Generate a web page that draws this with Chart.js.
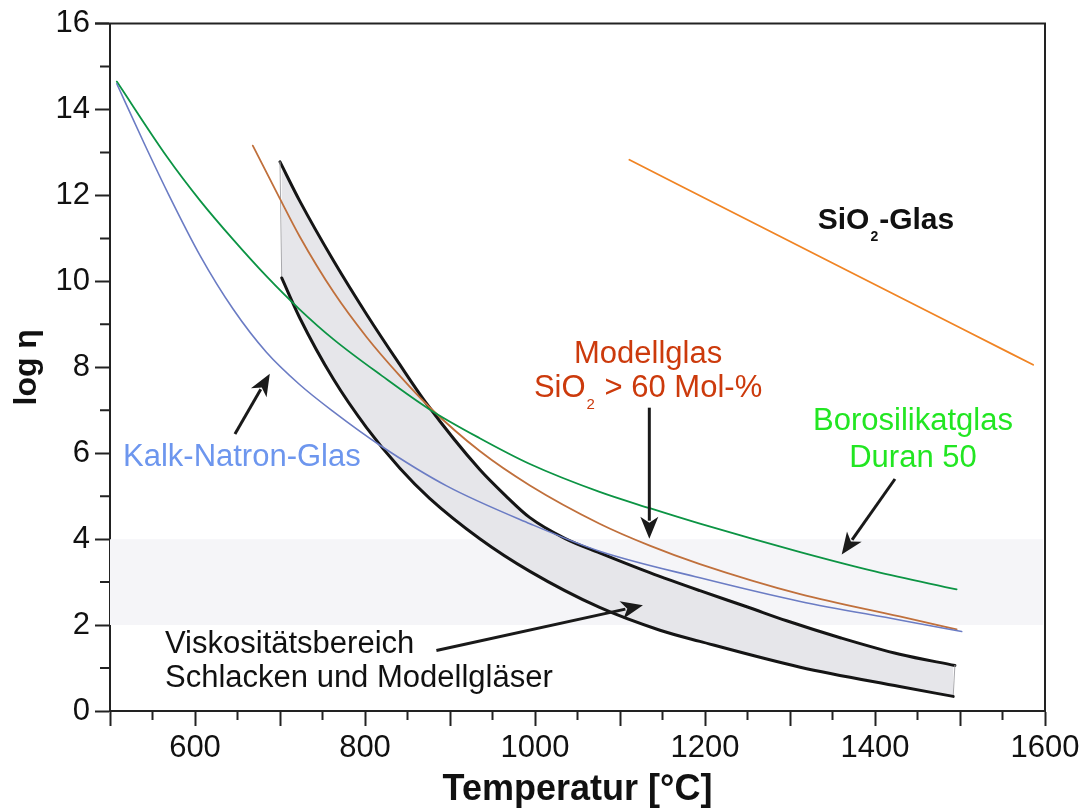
<!DOCTYPE html>
<html>
<head>
<meta charset="utf-8">
<script src="https://cdn.jsdelivr.net/npm/chart.js@4.4.1/dist/chart.umd.min.js"></script>
<style>
  html, body { margin: 0; padding: 0; background: #fff; }
  #wrap { width: 1085px; height: 812px; }
</style>
</head>
<body>
<div id="wrap"><canvas id="viscChart" width="1085" height="812"></canvas></div>
<script>
// ---- data (temperature in °C, log eta) ----
var kalkT   = [508, 540, 567, 606, 645, 684, 723, 762, 818, 896, 994, 1076, 1194, 1312, 1429, 1502];
var kalkEta = [14.6, 13.22, 12.1, 10.6, 9.35, 8.35, 7.6, 6.98, 6.18, 5.24, 4.36, 3.72, 3.1, 2.55, 2.12, 1.85];

var boroT   = [508, 567, 606, 645, 684, 723, 763, 820, 876, 935, 994, 1076, 1135, 1194, 1312, 1400, 1496];
var boroEta = [14.65, 12.9, 11.88, 10.97, 10.12, 9.35, 8.65, 7.8, 7.02, 6.35, 5.75, 5.1, 4.72, 4.36, 3.7, 3.25, 2.83];

var modellT   = [668, 700, 723, 763, 802, 841, 876, 935, 994, 1076, 1135, 1194, 1312, 1429, 1496];
var modellEta = [13.16, 11.92, 11.05, 9.75, 8.7, 7.8, 7.07, 6.05, 5.25, 4.36, 3.85, 3.42, 2.72, 2.2, 1.9];

var sio2T   = [1111, 1288, 1503, 1586];
var sio2Eta = [12.83, 11.05, 8.89, 8.06];

var schlackeObenT   = [700, 723, 763, 802, 840, 873, 935, 965, 994, 1035, 1076, 1135, 1194, 1250, 1296, 1360, 1429, 1494];
var schlackeObenEta = [12.78, 11.88, 10.48, 9.23, 8.09, 7.14, 5.62, 5.02, 4.5, 4.02, 3.68, 3.22, 2.8, 2.42, 2.1, 1.7, 1.32, 1.06];

var schlackeUntenT   = [702, 723, 763, 802, 841, 876, 935, 994, 1076, 1147, 1194, 1312, 1429, 1492];
var schlackeUntenEta = [10.08, 9.16, 7.72, 6.59, 5.65, 4.95, 4.01, 3.25, 2.41, 1.88, 1.62, 1.02, 0.57, 0.34];

// range of the light band (log eta 2..4)
var bandT = [500, 1598];
var bandOben = [4, 4];
var bandUnten = [2, 2];

var xTicksMin = 500, xTicksMax = 1600;
var yTicksMin = 0, yTicksMax = 16;

function pts(xs, ys) {
    return xs.map(function(x, i) { return {x: x, y: ys[i]}; });
}

var FONT = "'Liberation Sans', Arial, Helvetica, sans-serif";
Chart.defaults.font.family = FONT;
Chart.defaults.color = '#111';

var lineBase = {
    pointRadius: 0,
    fill: false,
    cubicInterpolationMode: 'monotone',
    borderCapStyle: 'round'
};

// edges of the grey slag region, taken from the first / last points of both curves
var leftEdge = [
    {x: schlackeObenT[0], y: schlackeObenEta[0]},
    {x: schlackeUntenT[0], y: schlackeUntenEta[0]}
];
var rightEdge = [
    {x: schlackeObenT[schlackeObenT.length - 1], y: schlackeObenEta[schlackeObenEta.length - 1]},
    {x: schlackeUntenT[schlackeUntenT.length - 1], y: schlackeUntenEta[schlackeUntenEta.length - 1]}
];

// annotations: text, arrows, minor ticks, frame
var annotPlugin = {
    id: 'annot',
    afterDatasetsDraw: function(chart) {
        var ctx = chart.ctx, xs = chart.scales.x, ys = chart.scales.y, a = chart.chartArea;
        var px = function(v) { return xs.getPixelForValue(v); };
        var py = function(v) { return ys.getPixelForValue(v); };

        ctx.save();
        // frame top + right
        ctx.strokeStyle = '#222';
        ctx.lineWidth = 2;
        ctx.beginPath();
        ctx.moveTo(a.left - 15, a.top);
        ctx.lineTo(a.right, a.top);
        ctx.lineTo(a.right, a.bottom);
        ctx.stroke();

        // minor ticks
        ctx.beginPath();
        for (var t = xTicksMin + 50; t < xTicksMax; t += 100) {
            ctx.moveTo(px(t), a.bottom);
            ctx.lineTo(px(t), a.bottom + 9);
        }
        for (var v = yTicksMin + 1; v < yTicksMax; v += 2) {
            ctx.moveTo(a.left, py(v));
            ctx.lineTo(a.left - 10, py(v));
        }
        ctx.stroke();

        // arrows
        function arrow(x1, y1, x2, y2) {
            var ax = px(x1), ay = py(y1), bx = px(x2), by = py(y2);
            var ang = Math.atan2(by - ay, bx - ax);
            var hl = 22, hw = 9;
            ctx.strokeStyle = '#1a1a1a';
            ctx.fillStyle = '#1a1a1a';
            ctx.lineWidth = 3;
            ctx.beginPath();
            ctx.moveTo(ax, ay);
            ctx.lineTo(bx - Math.cos(ang) * (hl - 4), by - Math.sin(ang) * (hl - 4));
            ctx.stroke();
            ctx.beginPath();
            ctx.moveTo(bx, by);
            ctx.lineTo(bx - Math.cos(ang) * hl - Math.sin(ang) * hw, by - Math.sin(ang) * hl + Math.cos(ang) * hw);
            ctx.lineTo(bx - Math.cos(ang) * (hl - 6), by - Math.sin(ang) * (hl - 6));
            ctx.lineTo(bx - Math.cos(ang) * hl + Math.sin(ang) * hw, by - Math.sin(ang) * hl - Math.cos(ang) * hw);
            ctx.closePath();
            ctx.fill();
        }
        arrow(647, 6.45, 688, 7.85);
        arrow(1134.5, 7.06, 1134.5, 4.01);
        arrow(1423.5, 5.4, 1360.8, 3.64);
        arrow(884, 1.41, 1127, 2.46);

        // text with a subscript "2"; parts = [before, sub, after]
        function subText(parts, x, y, size, bold, color, align) {
            var w = bold ? 'bold ' : '';
            var big = w + size + 'px ' + FONT;
            var small = w + Math.round(size * 0.48) + 'px ' + FONT;
            ctx.font = big;
            var w1 = ctx.measureText(parts[0]).width;
            var w3 = ctx.measureText(parts[2]).width;
            ctx.font = small;
            var w2 = ctx.measureText(parts[1]).width + 2;
            var total = w1 + w2 + w3;
            var sx = px(x), sy = py(y);
            if (align === 'center') sx -= total / 2;
            ctx.fillStyle = color;
            ctx.textAlign = 'left';
            ctx.textBaseline = 'alphabetic';
            ctx.font = big;
            ctx.fillText(parts[0], sx, sy);
            ctx.font = small;
            ctx.fillText(parts[1], sx + w1 + 1, sy + 12);
            ctx.font = big;
            ctx.fillText(parts[2], sx + w1 + w2, sy);
        }
        function text(str, x, y, size, color, align, bold) {
            ctx.font = (bold ? 'bold ' : '') + size + 'px ' + FONT;
            ctx.fillStyle = color;
            ctx.textAlign = align;
            ctx.textBaseline = 'alphabetic';
            ctx.fillText(str, px(x), py(y));
        }

        text('Kalk-Natron-Glas', 515.3, 5.71, 31, '#6d96ee', 'left');
        text('Modellglas', 1133, 8.11, 31, '#cc3a0c', 'center');
        subText(['SiO', '2', ' > 60 Mol-%'], 1133, 7.30, 31, false, '#cc3a0c', 'center');
        text('Borosilikatglas', 1444.7, 6.53, 31, '#22e622', 'center');
        text('Duran 50', 1444.7, 5.67, 31, '#22e622', 'center');
        subText(['SiO', '2', '-Glas'], 1332.6, 11.22, 30, true, '#111', 'left');
        text('Viskositätsbereich', 564.7, 1.35, 31, '#111', 'left');
        text('Schlacken und Modellgläser', 564.7, 0.56, 31, '#111', 'left');
        ctx.restore();
    }
};

var ctx = document.getElementById('viscChart').getContext('2d');
var chart = new Chart(ctx, {
    type: 'line',
    data: {
        datasets: [
            Object.assign({}, lineBase, {
                label: 'Kalk-Natron-Glas', data: pts(kalkT, kalkEta),
                borderColor: '#6b7cc4', borderWidth: 1.6, order: 1
            }),
            Object.assign({}, lineBase, {
                label: 'Borosilikatglas Duran 50', data: pts(boroT, boroEta),
                borderColor: '#0c9444', borderWidth: 1.8, order: 1
            }),
            Object.assign({}, lineBase, {
                label: 'Modellglas', data: pts(modellT, modellEta),
                borderColor: '#c0703c', borderWidth: 1.8, order: 1
            }),
            Object.assign({}, lineBase, {
                label: 'SiO2-Glas', data: pts(sio2T, sio2Eta),
                borderColor: '#f08424', borderWidth: 1.8, order: 1
            }),
            Object.assign({}, lineBase, {
                label: 'Schlacken oben', data: pts(schlackeObenT, schlackeObenEta),
                borderColor: '#151515', borderWidth: 3, order: 3,
                fill: '+1', backgroundColor: '#e6e6ea'
            }),
            Object.assign({}, lineBase, {
                label: 'Schlacken unten', data: pts(schlackeUntenT, schlackeUntenEta),
                borderColor: '#151515', borderWidth: 3, order: 2
            }),
            Object.assign({}, lineBase, {
                label: 'Rand links', data: leftEdge,
                borderColor: '#a8a8ac', borderWidth: 1, order: 2
            }),
            Object.assign({}, lineBase, {
                label: 'Rand rechts', data: rightEdge,
                borderColor: '#a8a8ac', borderWidth: 1, order: 2
            }),
            Object.assign({}, lineBase, {
                label: 'Band oben', data: pts(bandT, bandOben),
                borderWidth: 0, borderColor: 'rgba(0,0,0,0)', order: 4,
                fill: '+1', backgroundColor: '#f5f5f8'
            }),
            Object.assign({}, lineBase, {
                label: 'Band unten', data: pts(bandT, bandUnten),
                borderWidth: 0, borderColor: 'rgba(0,0,0,0)', order: 4
            })
        ]
    },
    options: {
        responsive: false,
        animation: false,
        devicePixelRatio: 1,
        layout: { padding: { top: 23, right: 40, left: 0, bottom: 0 } },
        plugins: {
            legend: { display: false },
            tooltip: { enabled: false },
            title: { display: false }
        },
        scales: {
            x: {
                type: 'linear',
                min: xTicksMin, max: xTicksMax,
                afterFit: function(scale) { scale.height = 101; },
                border: { display: true, color: '#222', width: 2 },
                grid: {
                    drawOnChartArea: false,
                    tickLength: 15,
                    tickWidth: 2,
                    tickColor: function(c) { return c.tick && c.tick.value % 100 === 0 ? '#222' : 'rgba(0,0,0,0)'; }
                },
                ticks: {
                    stepSize: 50,
                    autoSkip: false,
                    maxRotation: 0,
                    padding: 4,
                    color: '#111',
                    font: { size: 31 },
                    callback: function(v) { return (v % 200 === 0 && v > xTicksMin) ? String(v) : ''; }
                },
                title: {
                    display: true,
                    text: 'Temperatur [°C]',
                    color: '#111',
                    font: { size: 36, weight: 'bold' },
                    padding: { top: 0, bottom: 0 }
                }
            },
            y: {
                type: 'linear',
                min: yTicksMin, max: yTicksMax,
                afterFit: function(scale) { scale.width = 110; },
                border: { display: true, color: '#222', width: 2 },
                grid: {
                    drawOnChartArea: false,
                    tickLength: 15,
                    tickWidth: 2,
                    tickColor: function(c) { return c.tick && c.tick.value % 2 === 0 ? '#222' : 'rgba(0,0,0,0)'; }
                },
                ticks: {
                    stepSize: 1,
                    autoSkip: false,
                    padding: 5,
                    color: '#111',
                    font: { size: 31 },
                    callback: function(v) { return v % 2 === 0 ? String(v) : ''; }
                },
                title: {
                    display: true,
                    text: 'log η',
                    color: '#111',
                    font: { size: 32, weight: 'bold' },
                    padding: { top: 8, bottom: 0 }
                }
            }
        }
    },
    plugins: [annotPlugin]
});
</script>
</body>
</html>
